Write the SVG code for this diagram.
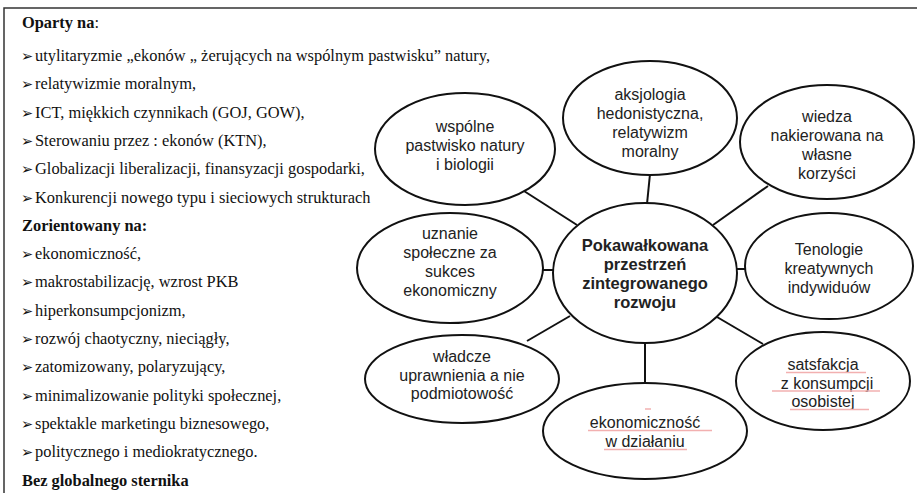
<svg xmlns="http://www.w3.org/2000/svg" width="917" height="493" viewBox="0 0 917 493">
<style>
.frame{fill:none;stroke:#333;stroke-width:1.5}
.lt{font-family:"Liberation Serif","Times New Roman",serif;font-size:16.4px;fill:#111}
.lb{font-family:"Liberation Serif","Times New Roman",serif;font-size:16.4px;font-weight:bold;fill:#111}
.bul{font-family:"DejaVu Sans",sans-serif;font-size:14.5px;fill:#111}
.node ellipse{fill:#fff;stroke:#111;stroke-width:2}
.nt{font-family:"Liberation Sans",Arial,sans-serif;font-size:16px;fill:#222;text-anchor:middle}
.ntb{font-family:"Liberation Sans",Arial,sans-serif;font-size:16.5px;font-weight:bold;fill:#222;text-anchor:middle}
.conn line{stroke:#111;stroke-width:2}
.sq{stroke:#f2b0b0;stroke-width:1.5}
</style>
<path class="frame" d="M917,8 H4 V493"/>
<g id="left-text">
<text class="lb" x="22" y="28">Oparty na<tspan font-weight="normal">:</tspan></text>
<text class="bul" x="21" y="61">➢</text><text class="lt" x="35" y="61">utylitaryzmie „ekonów „ żerujących  na wspólnym pastwisku” natury,</text>
<text class="bul" x="21" y="89.3">➢</text><text class="lt" x="35" y="89.3">relatywizmie moralnym,</text>
<text class="bul" x="21" y="117.6">➢</text><text class="lt" x="35" y="117.6">ICT,  miękkich czynnikach (GOJ, GOW),</text>
<text class="bul" x="21" y="145.9">➢</text><text class="lt" x="35" y="145.9">Sterowaniu przez : ekonów (KTN),</text>
<text class="bul" x="21" y="174.2">➢</text><text class="lt" x="35" y="174.2">Globalizacji liberalizacji, finansyzacji  gospodarki,</text>
<text class="bul" x="21" y="202.5">➢</text><text class="lt" x="35" y="202.5">Konkurencji nowego typu i sieciowych strukturach</text>
<text class="lb" x="22" y="230.8">Zorientowany na:</text>
<text class="bul" x="21" y="259.1">➢</text><text class="lt" x="35" y="259.1">ekonomiczność,</text>
<text class="bul" x="21" y="287.4">➢</text><text class="lt" x="35" y="287.4">makrostabilizację, wzrost PKB</text>
<text class="bul" x="21" y="315.7">➢</text><text class="lt" x="35" y="315.7">hiperkonsumpcjonizm,</text>
<text class="bul" x="21" y="344">➢</text><text class="lt" x="35" y="344">rozwój chaotyczny, nieciągły,</text>
<text class="bul" x="21" y="372.3">➢</text><text class="lt" x="35" y="372.3">zatomizowany, polaryzujący,</text>
<text class="bul" x="21" y="400.6">➢</text><text class="lt" x="35" y="400.6">minimalizowanie polityki społecznej,</text>
<text class="bul" x="21" y="428.9">➢</text><text class="lt" x="35" y="428.9">spektakle  marketingu  biznesowego,</text>
<text class="bul" x="21" y="457.2">➢</text><text class="lt" x="35" y="457.2">politycznego i mediokratycznego.</text>
<text class="lb" x="22" y="485.5">Bez globalnego sternika</text>
</g>
<g class="conn" id="connectors">
<line x1="524" y1="191" x2="577" y2="225"/>
<line x1="650" y1="174" x2="647" y2="204"/>
<line x1="768" y1="186" x2="713" y2="225"/>
<line x1="542" y1="270" x2="554" y2="270"/>
<line x1="736" y1="269" x2="746" y2="269"/>
<line x1="570" y1="316" x2="527" y2="341"/>
<line x1="645" y1="342" x2="645" y2="384"/>
<line x1="717" y1="317" x2="763" y2="344"/>
</g>
<g class="node" id="n-wspolne">
<ellipse cx="465" cy="149" rx="90" ry="56"/>
<text class="nt" x="465" y="132">wspólne</text>
<text class="nt" x="465" y="151">pastwisko natury</text>
<text class="nt" x="465" y="170">i biologii</text>
</g>
<g class="node" id="n-aksjologia">
<ellipse cx="650" cy="118" rx="87" ry="57"/>
<text class="nt" x="650" y="99.5">aksjologia</text>
<text class="nt" x="650" y="118.5">hedonistyczna,</text>
<text class="nt" x="650" y="137.5">relatywizm</text>
<text class="nt" x="650" y="156.5">moralny</text>
</g>
<g class="node" id="n-wiedza">
<ellipse cx="827" cy="142" rx="87" ry="57"/>
<text class="nt" x="827" y="122">wiedza</text>
<text class="nt" x="827" y="141">nakierowana na</text>
<text class="nt" x="827" y="160">własne</text>
<text class="nt" x="827" y="179">korzyści</text>
</g>
<g class="node" id="n-center">
<ellipse cx="645" cy="273" rx="92" ry="70"/>
<text class="ntb" x="645" y="251">Pokawałkowana</text>
<text class="ntb" x="645" y="270">przestrzeń</text>
<text class="ntb" x="645" y="289">zintegrowanego</text>
<text class="ntb" x="645" y="308">rozwoju</text>
</g>
<g class="node" id="n-uznanie">
<ellipse cx="450" cy="268" rx="93" ry="55"/>
<text class="nt" x="450" y="239">uznanie</text>
<text class="nt" x="450" y="258">społeczne za</text>
<text class="nt" x="450" y="277">sukces</text>
<text class="nt" x="450" y="296">ekonomiczny</text>
</g>
<g class="node" id="n-tenologie">
<ellipse cx="829" cy="266" rx="84" ry="53"/>
<text class="nt" x="829" y="255">Tenologie</text>
<text class="nt" x="829" y="274">kreatywnych</text>
<text class="nt" x="829" y="293">indywiduów</text>
</g>
<g class="node" id="n-wladcze">
<ellipse cx="462" cy="379" rx="97" ry="44"/>
<text class="nt" x="462" y="362">władcze</text>
<text class="nt" x="462" y="380.5">uprawnienia a nie</text>
<text class="nt" x="462" y="399">podmiotowość</text>
</g>
<g class="node" id="n-ekonomicznosc">
<ellipse cx="645" cy="431" rx="102" ry="48"/>
<line class="sq" x1="645" y1="409" x2="651" y2="409"/>
<text class="nt" x="645" y="428">ekonomiczność</text>
<line class="sq" x1="588" y1="430.5" x2="712" y2="430.5"/>
<text class="nt" x="645" y="447">w działaniu</text>
<line class="sq" x1="604" y1="449.5" x2="687" y2="449.5"/>
</g>
<g class="node" id="n-satsfakcja">
<ellipse cx="823" cy="381" rx="87" ry="49"/>
<text class="nt" x="823" y="370">satsfakcja</text>
<line class="sq" x1="786" y1="372.5" x2="866" y2="372.5"/>
<text class="nt" x="827" y="388.5">z konsumpcji</text>
<line class="sq" x1="772" y1="391" x2="880" y2="391"/>
<text class="nt" x="823" y="407">osobistej</text>
<line class="sq" x1="790" y1="409.5" x2="869" y2="409.5"/>
</g>
</svg>
